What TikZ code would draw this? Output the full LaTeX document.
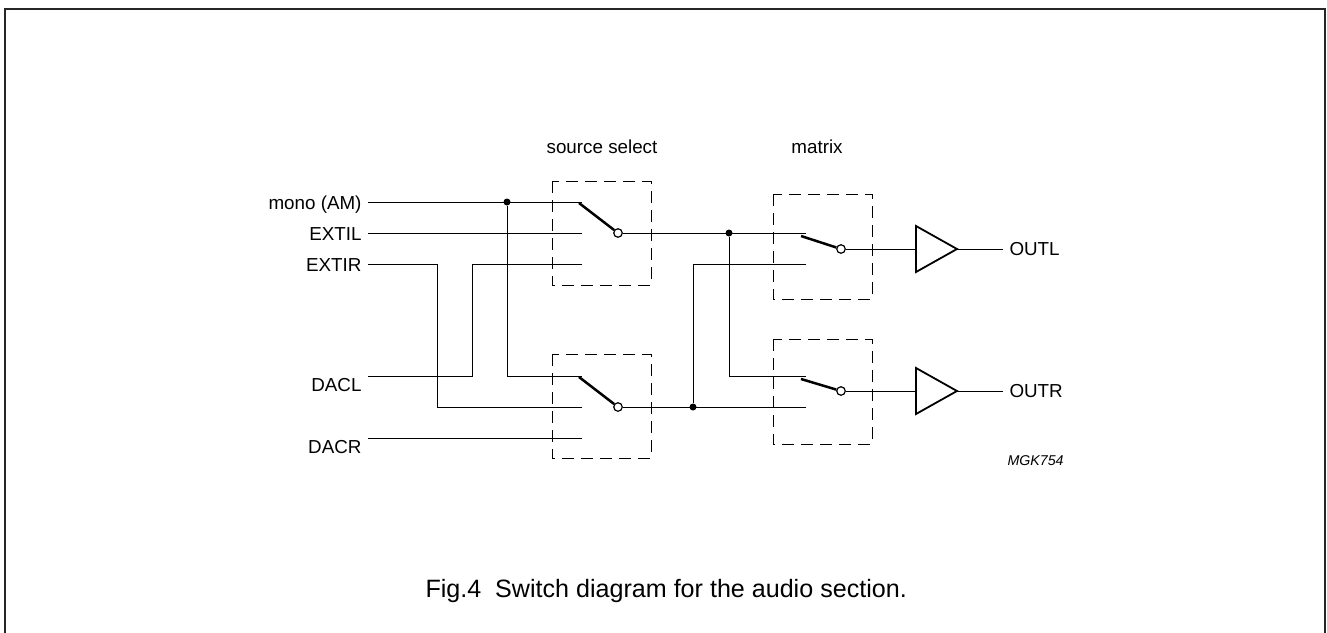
\documentclass[tikz,border=0pt]{standalone}
\usepackage{fontspec}
\setmainfont{Liberation Sans}
\usetikzlibrary{positioning}

\begin{document}
\begin{tikzpicture}
[x=1pt, y=-1pt,
 line width=1pt,
 lbl/.style={font=\fontsize{18.8}{21}\selectfont, inner sep=0pt},
 selbox/.style={dash pattern=on 12pt off 7pt, line width=1pt},
 lever/.style={line width=2.5pt},
 pivot/.style={circle, draw, fill=white, inner sep=0pt,
 minimum size=8.5pt, line width=1.2pt},
 junction/.style={circle, fill, inner sep=0pt, minimum size=7pt},
 buffer/.style={line width=1.8pt, line join=miter}
]
\useasboundingbox (0,0) rectangle (1327,632);
\draw[line width=2pt, black!85] (5,660) -- (5,9) -- (1325,9) -- (1325,660);

% input labels
\node[lbl, anchor=base east] (mono) at (362,209) {mono (AM)};
\node[lbl, anchor=base east] (extil) at (362,240) {EXTIL};
\node[lbl, anchor=base east] (extir) at (362,271) {EXTIR};
\node[lbl, anchor=base east] (dacl) at (362,391) {DACL};
\node[lbl, anchor=base east] (dacr) at (362,453) {DACR};
\coordinate (wmono) at (368,202);
\coordinate (wextil) at (368,233);
\coordinate (wextir) at (368,264);
\coordinate (wdacl) at (368,376);
\coordinate (wdacr) at (368,438);

% source select
\node[lbl, anchor=base] (srcsel) at (602,153) {source select};
\draw[selbox] (552,181) rectangle (651,285);
\draw[selbox] (552,354) rectangle (651,458);
\coordinate (sa1) at (582,202);
\coordinate (sa2) at (582,233);
\coordinate (sa3) at (582,264);
\coordinate (sb1) at (582,376);
\coordinate (sb2) at (582,407);
\coordinate (sb3) at (582,438);
\node[pivot] (sap) at (618,233) {};
\node[pivot] (sbp) at (618,407) {};
\coordinate (salev) at (579,203);
\coordinate (sblev) at (579,377);

% matrix
\node[lbl, anchor=base] (mtx) at (817,153) {matrix};
\draw[selbox] (773,194) rectangle (872,299);
\draw[selbox] (773,339) rectangle (872,444);
\coordinate (ma1) at (806,233);
\coordinate (ma2) at (806,264);
\coordinate (mb1) at (806,376);
\coordinate (mb2) at (806,407);
\node[pivot] (map) at (841,249) {};
\node[pivot] (mbp) at (841,391) {};
\coordinate (malev) at (801,236);
\coordinate (mblev) at (801,379);

% buffers
\draw[buffer] (916,226) -- (957,249) -- (916,272) -- cycle;
\draw[buffer] (916,368) -- (957,391) -- (916,414) -- cycle;
\coordinate (bufain) at (916,249);
\coordinate (bufaout) at (957,249);
\coordinate (bufbin) at (916,391);
\coordinate (bufbout) at (957,391);
\node[lbl, anchor=west, inner xsep=6pt] (outl) at (1003,249) {OUTL};
\node[lbl, anchor=west, inner xsep=6pt] (outr) at (1003,391) {OUTR};

% wiring
\node[junction] (j1) at (507,202) {};
\node[junction] (j2) at (729,233) {};
\node[junction] (j3) at (693,407) {};
\draw (wmono) -- (sa1);
\draw (wextil) -- (sa2);
\draw (wextir) -- ++(69,0) |- (sb2);
\draw (wdacl) -- ++(104,0) |- (sa3);
\draw (wdacr) -- (sb3);
\draw (j1) |- (sb1);
\draw[lever] (salev) -- (sap);
\draw[lever] (sblev) -- (sbp);
\draw (sap) -- (ma1);
\draw (j2) |- (mb1);
\draw (sbp) -- (mb2);
\draw (j3) |- (ma2);
\draw[lever] (malev) -- (map);
\draw[lever] (mblev) -- (mbp);
\draw (map) -- (bufain);
\draw (mbp) -- (bufbin);
\draw (bufaout) -- (outl);
\draw (bufbout) -- (outr);

\node[anchor=base west, inner sep=0pt, font=\fontsize{14.2}{16}\selectfont\itshape]
 (code) at (1007,465) {MGK754};
\node[anchor=base west, inner sep=0pt, font=\fontsize{25.1}{28}\selectfont]
 (caption) at (425,597) {Fig.4\ \ Switch diagram for the audio section.};
\end{tikzpicture}
\end{document}
